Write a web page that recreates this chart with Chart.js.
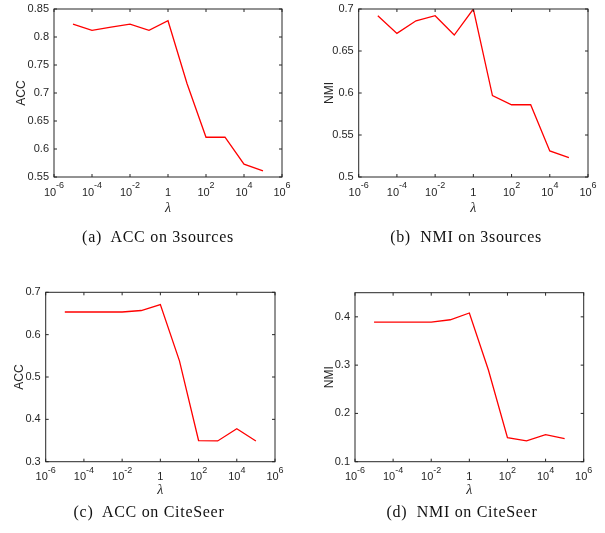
<!DOCTYPE html>
<html>
<head>
<meta charset="utf-8">
<script src="https://cdn.jsdelivr.net/npm/chart.js@4/dist/chart.umd.min.js"></script>
<style>
  body { margin: 0; background: #fff; }
  #wrap { position: relative; width: 605px; height: 533px; overflow: hidden; }
  canvas { position: absolute; }
  .cap { position: absolute; font-family: 'Liberation Serif', serif; font-size: 16px; color: #111;
         white-space: pre; transform: translate(-50%, -50%); letter-spacing: 0.7px; }
</style>
</head>
<body>
<div id="wrap">
  <canvas id="c1" width="300" height="230" style="left:0;top:0"></canvas>
  <canvas id="c2" width="305" height="230" style="left:300px;top:0"></canvas>
  <canvas id="c3" width="300" height="230" style="left:0;top:280px"></canvas>
  <canvas id="c4" width="305" height="230" style="left:300px;top:280px"></canvas>
  <div class="cap" style="left:158px;top:237px">(a)  ACC on 3sources</div>
  <div class="cap" style="left:466px;top:237px">(b)  NMI on 3sources</div>
  <div class="cap" style="left:149px;top:512px">(c)  ACC on CiteSeer</div>
  <div class="cap" style="left:462px;top:512px">(d)  NMI on CiteSeer</div>
</div>
<script>
// lambda values used in the parameter sweep
const lambdas = [1e-5, 1e-4, 1e-3, 1e-2, 1e-1, 1, 10, 100, 1e3, 1e4, 1e5];
const xTickExps = [-6, -4, -2, 0, 2, 4, 6];

// results
const acc3sources = [0.823, 0.812, 0.8175, 0.823, 0.812, 0.829, 0.717, 0.621, 0.621, 0.573, 0.561];
const nmi3sources = [0.692, 0.671, 0.686, 0.692, 0.669, 0.700, 0.597, 0.586, 0.586, 0.531, 0.523];
const accCiteSeer = [0.6535, 0.6535, 0.6535, 0.6535, 0.657, 0.671, 0.538, 0.350, 0.349, 0.378, 0.349];
const nmiCiteSeer = [0.389, 0.389, 0.389, 0.389, 0.394, 0.408, 0.290, 0.150, 0.143, 0.156, 0.148];

const yTicksA = [0.55, 0.6, 0.65, 0.7, 0.75, 0.8, 0.85];
const yTicksB = [0.5, 0.55, 0.6, 0.65, 0.7];
const yTicksC = [0.3, 0.4, 0.5, 0.6, 0.7];
const yTicksD = [0.1, 0.2, 0.3, 0.4];

const INK = '#262626';

// MATLAB style box with inward ticks and 10^n labels
const boxPlugin = {
    id: 'box',
    afterDraw(chart) {
        const ctx = chart.ctx;
        const a = chart.chartArea;
        const xs = chart.scales.x, ys = chart.scales.y;
        ctx.save();
        ctx.strokeStyle = INK;
        ctx.lineWidth = 1;
        ctx.strokeRect(a.left, a.top, a.right - a.left, a.bottom - a.top);
        ctx.beginPath();
        xTickExps.forEach(e => {
            const px = xs.getPixelForValue(Math.pow(10, e));
            ctx.moveTo(px, a.bottom); ctx.lineTo(px, a.bottom - 3);
            ctx.moveTo(px, a.top); ctx.lineTo(px, a.top + 3);
        });
        ys.ticks.forEach(t => {
            const py = ys.getPixelForValue(t.value);
            ctx.moveTo(a.left, py); ctx.lineTo(a.left + 3, py);
            ctx.moveTo(a.right, py); ctx.lineTo(a.right - 3, py);
        });
        ctx.stroke();

        // x tick labels
        ctx.fillStyle = INK;
        ctx.textBaseline = 'middle';
        ctx.textAlign = 'left';
        const baseFont = '11px "Liberation Sans", Arial, sans-serif';
        const expFont = '9px "Liberation Sans", Arial, sans-serif';
        const baseY = a.bottom + 15.5;
        xTickExps.forEach(e => {
            const px = xs.getPixelForValue(Math.pow(10, e));
            if (e === 0) {
                ctx.font = baseFont;
                const w = ctx.measureText('1').width;
                ctx.fillText('1', px - w / 2, baseY);
                return;
            }
            const ex = e < 0 ? '-' + (-e) : String(e);
            ctx.font = baseFont;
            const wb = ctx.measureText('10').width;
            ctx.font = expFont;
            const we = ctx.measureText(ex).width;
            const x0 = px - (wb + we) / 2;
            ctx.font = baseFont;
            ctx.fillText('10', x0, baseY);
            ctx.font = expFont;
            ctx.fillText(ex, x0 + wb, baseY - 7);
        });
        ctx.restore();
    }
};

function makeChart(id, values, yTicks, yMin, yMax, yTitle, g) {
    const canvas = document.getElementById(id);
    return new Chart(canvas.getContext('2d'), {
        type: 'line',
        data: {
            datasets: [{
                data: lambdas.map((l, i) => ({ x: l, y: values[i] })),
                borderColor: '#ff0000',
                borderWidth: 1.3,
                pointRadius: 0,
                tension: 0,
                fill: false
            }]
        },
        options: {
            responsive: false,
            animation: false,
            events: [],
            layout: { padding: { left: g.padLeft, top: g.top, right: canvas.width - g.right, bottom: g.padBottom } },
            plugins: { legend: { display: false }, tooltip: { enabled: false } },
            scales: {
                x: {
                    type: 'logarithmic',
                    min: 1e-6,
                    max: 1e6,
                    grid: { display: false },
                    border: { display: false },
                    ticks: { display: false },
                    title: {
                        display: true,
                        text: 'λ',
                        color: INK,
                        padding: 0,
                        font: { family: '"Liberation Serif", serif', style: 'italic', size: 14, lineHeight: 1.2 }
                    },
                    afterFit(s) {
                        s.height = canvas.height - g.padBottom - g.bottom;
                        s.paddingLeft = 0; s.paddingRight = 0;
                    }
                },
                y: {
                    min: yMin,
                    max: yMax,
                    grid: { display: false, drawTicks: false },
                    border: { display: false },
                    afterBuildTicks(s) { s.ticks = yTicks.map(v => ({ value: v })); },
                    ticks: {
                        padding: 5,
                        color: INK,
                        font: { family: '"Liberation Sans", Arial, sans-serif', size: 11 },
                        callback: v => String(+v.toFixed(2))
                    },
                    title: {
                        display: true,
                        text: yTitle,
                        color: INK,
                        padding: 0,
                        font: { family: '"Liberation Sans", Arial, sans-serif', size: 12, lineHeight: 1.2 }
                    },
                    afterFit(s) {
                        s.width = g.left - g.padLeft;
                        s.paddingTop = 0; s.paddingBottom = 0;
                    }
                }
            }
        },
        plugins: [boxPlugin]
    });
}

makeChart('c1', acc3sources, yTicksA, 0.55, 0.85, 'ACC',
    { left: 54, right: 282, top: 9, bottom: 177, padLeft: 14.8, padBottom: 13.6 });
makeChart('c2', nmi3sources, yTicksB, 0.5, 0.7, 'NMI',
    { left: 58.7, right: 288, top: 9, bottom: 177, padLeft: 22.8, padBottom: 13.6 });
makeChart('c3', accCiteSeer, yTicksC, 0.3, 0.7, 'ACC',
    { left: 45.7, right: 275, top: 12.3, bottom: 181.7, padLeft: 12.1, padBottom: 10.9 });
makeChart('c4', nmiCiteSeer, yTicksD, 0.1, 0.45, 'NMI',
    { left: 55, right: 283.7, top: 12.7, bottom: 181.7, padLeft: 22.1, padBottom: 10.9 });
</script>
</body>
</html>
